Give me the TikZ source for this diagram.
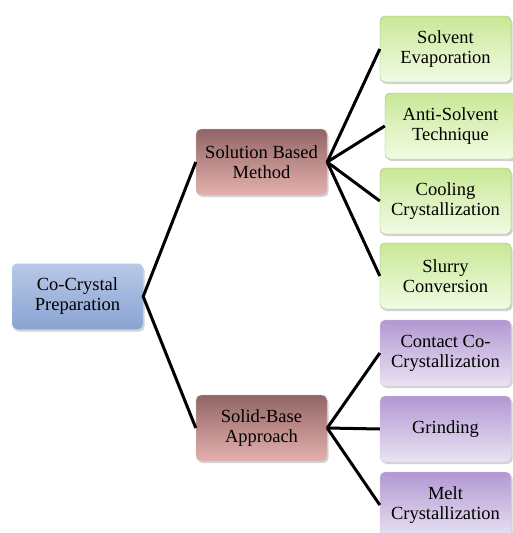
\documentclass[tikz,border=0pt]{standalone}
\usepackage{fontspec}
\setmainfont{Liberation Serif}
\usetikzlibrary{shadows}
\definecolor{rootTop}{RGB}{184,201,231}
\definecolor{rootBot}{RGB}{137,163,210}
\definecolor{midTop}{RGB}{146,102,102}
\definecolor{midBot}{RGB}{228,176,173}
\definecolor{grnTop}{RGB}{200,232,150}
\definecolor{grnBot}{RGB}{242,251,228}
\definecolor{purTop}{RGB}{178,152,210}
\definecolor{purBot}{RGB}{234,227,243}

\begin{document}
\begin{tikzpicture}[x=1pt, y=-1pt,
    box/.style={rectangle, rounded corners=5pt, minimum width=131pt, minimum height=66pt,
        inner sep=0pt, align=center, font=\fontsize{18.5}{20}\selectfont,
        drop shadow={shadow xshift=1.5pt, shadow yshift=-2pt, opacity=0.35}},
    rootbox/.style={box, draw=rootTop!60!white, top color=rootTop, bottom color=rootBot},
    midbox/.style={box, draw=midTop!40!white, top color=midTop, bottom color=midBot},
    grnbox/.style={box, draw=grnTop!80!black, top color=grnTop, bottom color=grnBot},
    purbox/.style={box, draw=purTop!50!white, top color=purTop, bottom color=purBot},
    link/.style={line width=3pt, black}]
    \useasboundingbox (0,0) rectangle (512,533);
    % root and branches
    \node (root) [rootbox] at (77.5,296.5) {Co-Crystal\\Preparation};
    \node (sol) [midbox] at (261.5,162) {Solution Based\\Method};
    \node (solid) [midbox] at (261.5,428) {Solid-Base\\Approach};
    % leaves
    \node (evap) [grnbox] at (445.5,49) {Solvent\\Evaporation};
    \node (anti) [grnbox] at (450.5,126) {Anti-Solvent\\Technique};
    \node (cool) [grnbox] at (445.5,201) {Cooling\\Crystallization};
    \node (slurry) [grnbox] at (445.5,276) {Slurry\\Conversion};
    \node (contact) [purbox] at (445.5,353) {Contact Co-\\Crystallization};
    \node (grind) [purbox] at (445.5,429) {Grinding};
    \node (melt) [purbox] at (445.5,505) {Melt\\Crystallization};
    % connectors
    \draw [link] (sol.west) -- (root.east) -- (solid.west);
    \foreach \leaf in {evap, anti, cool, slurry}
        \draw [link] (sol.east) -- (\leaf.west);
    \foreach \leaf in {contact, grind, melt}
        \draw [link] (solid.east) -- (\leaf.west);
\end{tikzpicture}
\end{document}
